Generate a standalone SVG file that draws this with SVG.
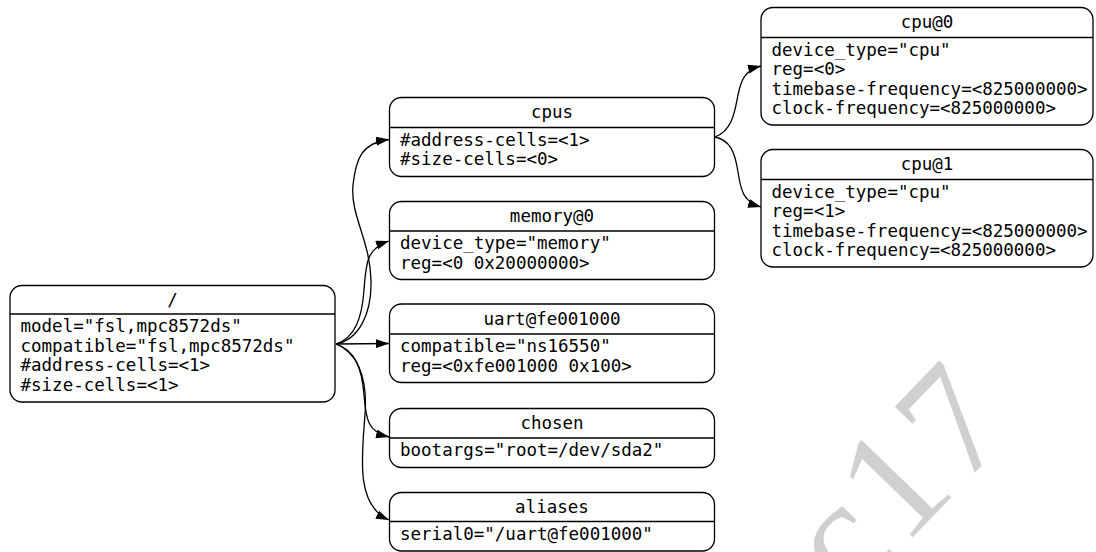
<svg xmlns="http://www.w3.org/2000/svg" width="1096" height="552" viewBox="0 0 1096 552">
<defs>
<style>
.box{fill:#fff;stroke:#000;stroke-width:1.3}
.sep{stroke:#000;stroke-width:1.3}
.t{font-family:"DejaVu Sans Mono","Liberation Mono",monospace;font-size:17.5px;fill:#000}
.c{text-anchor:middle}
.e{fill:none;stroke:#000;stroke-width:1.3}
.wm{font-family:"Liberation Serif",serif;font-size:158px;fill:#d0d0d0;letter-spacing:6px}
</style>
<marker id="arr" viewBox="0 0 13 9" refX="13" refY="4.5" markerWidth="13" markerHeight="9" markerUnits="userSpaceOnUse" orient="auto">
<path d="M0,0 L13,4.5 L0,9 z" fill="#000"/>
</marker>
</defs>
<rect width="1096" height="552" fill="#fff"/>
<text class="wm" x="850" y="602" transform="rotate(-46 850 602)">c17</text>

<g id="edges">
<path class="e" marker-end="url(#arr)" d="M336,344 C358,340 372,315 371,280 C370,240 350,215 353,185 C356,158 362,143 389,139.5"/>
<path class="e" marker-end="url(#arr)" d="M336,344 C355,338 362,318 364,290 C366,260 368,248 389,241"/>
<path class="e" marker-end="url(#arr)" d="M336,344 L389,343.5"/>
<path class="e" marker-end="url(#arr)" d="M336,344 C356,350 362,370 364,395 C366,420 368,432 389,437"/>
<path class="e" marker-end="url(#arr)" d="M336,344 C356,352 368,375 365,415 C362,455 355,505 389,520"/>
<path class="e" marker-end="url(#arr)" d="M715,137 C733,130 735,110 738,95 C741,80 745,70 761,66"/>
<path class="e" marker-end="url(#arr)" d="M715,137 C730,140 735,152 738,172 C741,192 744,202 761,207"/>
</g>

<g id="root">
<rect class="box" x="10" y="285.5" width="325" height="116.5" rx="12"/>
<line class="sep" x1="10" y1="314" x2="335" y2="314"/>
<text class="t c" x="172.5" y="306">/</text>
<text class="t" x="20.5" y="332">model="fsl,mpc8572ds"</text>
<text class="t" x="20.5" y="351.5">compatible="fsl,mpc8572ds"</text>
<text class="t" x="20.5" y="371">#address-cells=&lt;1&gt;</text>
<text class="t" x="20.5" y="390.5">#size-cells=&lt;1&gt;</text>
</g>

<g id="cpus">
<rect class="box" x="389.5" y="97.5" width="325" height="79" rx="12"/>
<line class="sep" x1="389.5" y1="127.5" x2="714.5" y2="127.5"/>
<text class="t c" x="552" y="118">cpus</text>
<text class="t" x="400" y="145.5">#address-cells=&lt;1&gt;</text>
<text class="t" x="400" y="165">#size-cells=&lt;0&gt;</text>
</g>

<g id="memory">
<rect class="box" x="389.5" y="201.5" width="325" height="78" rx="12"/>
<line class="sep" x1="389.5" y1="231" x2="714.5" y2="231"/>
<text class="t c" x="552" y="222">memory@0</text>
<text class="t" x="400" y="249">device_type="memory"</text>
<text class="t" x="400" y="268.5">reg=&lt;0 0x20000000&gt;</text>
</g>

<g id="uart">
<rect class="box" x="389.5" y="304" width="325" height="78.5" rx="12"/>
<line class="sep" x1="389.5" y1="334" x2="714.5" y2="334"/>
<text class="t c" x="552" y="324.5">uart@fe001000</text>
<text class="t" x="400" y="352">compatible="ns16550"</text>
<text class="t" x="400" y="371.5">reg=&lt;0xfe001000 0x100&gt;</text>
</g>

<g id="chosen">
<rect class="box" x="389.5" y="408.5" width="325" height="59" rx="12"/>
<line class="sep" x1="389.5" y1="438" x2="714.5" y2="438"/>
<text class="t c" x="552" y="429">chosen</text>
<text class="t" x="400" y="456">bootargs="root=/dev/sda2"</text>
</g>

<g id="aliases">
<rect class="box" x="389.5" y="492.5" width="325" height="58.5" rx="12"/>
<line class="sep" x1="389.5" y1="521.5" x2="714.5" y2="521.5"/>
<text class="t c" x="552" y="513">aliases</text>
<text class="t" x="400" y="539.5">serial0="/uart@fe001000"</text>
</g>

<g id="cpu0">
<rect class="box" x="761" y="7.5" width="332" height="117.5" rx="12"/>
<line class="sep" x1="761" y1="37.5" x2="1093" y2="37.5"/>
<text class="t c" x="927" y="28">cpu@0</text>
<text class="t" x="771.5" y="55.5">device_type="cpu"</text>
<text class="t" x="771.5" y="75">reg=&lt;0&gt;</text>
<text class="t" x="771.5" y="94.5">timebase-frequency=&lt;825000000&gt;</text>
<text class="t" x="771.5" y="114">clock-frequency=&lt;825000000&gt;</text>
</g>

<g id="cpu1">
<rect class="box" x="761" y="149.5" width="332" height="117.5" rx="12"/>
<line class="sep" x1="761" y1="179.5" x2="1093" y2="179.5"/>
<text class="t c" x="927" y="170">cpu@1</text>
<text class="t" x="771.5" y="197.5">device_type="cpu"</text>
<text class="t" x="771.5" y="217">reg=&lt;1&gt;</text>
<text class="t" x="771.5" y="236.5">timebase-frequency=&lt;825000000&gt;</text>
<text class="t" x="771.5" y="256">clock-frequency=&lt;825000000&gt;</text>
</g>
</svg>
